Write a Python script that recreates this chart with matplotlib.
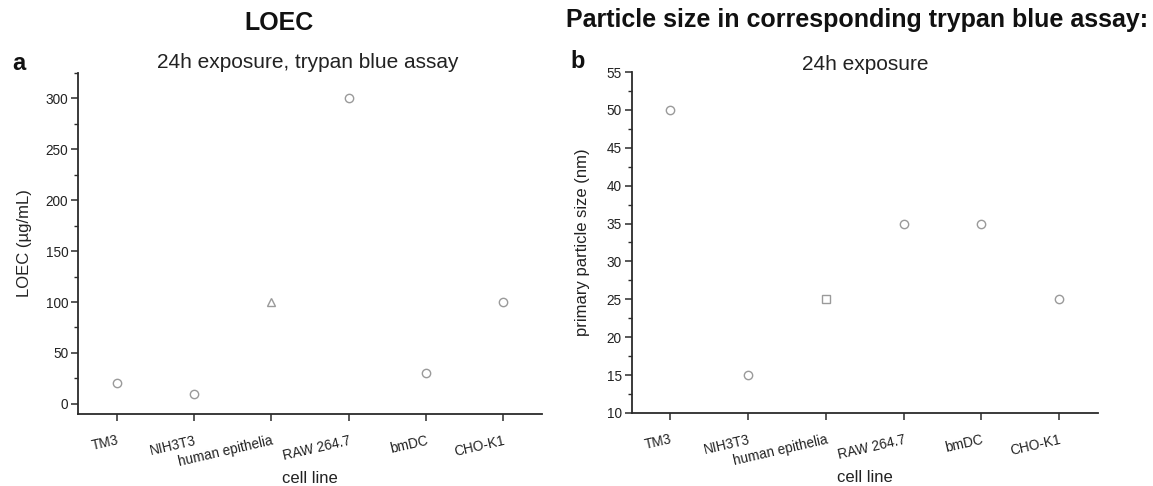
import numpy as np
import matplotlib
matplotlib.use('Agg')
import matplotlib.pyplot as plt
from matplotlib.ticker import MultipleLocator

plt.rcParams['font.family'] = ['Liberation Sans', 'DejaVu Sans']

cell_lines = ['TM3', 'NIH3T3', 'human epithelia', 'RAW 264.7', 'bmDC', 'CHO-K1']
loec = [20, 10, 100, 300, 30, 100]
loec_markers = ['o', 'o', '^', 'o', 'o', 'o']
size_nm = [50, 15, 25, 35, 35, 25]
size_markers = ['o', 'o', 's', 'o', 'o', 'o']

W, H = 1153, 486
fig = plt.figure(figsize=(W / 100, H / 100), dpi=100)
fig.patch.set_facecolor('white')

axc = '#2b2b2b'
mc = '#9a9a9a'


def px(x0, y0, x1, y1):
    # pixel box (left, top, right, bottom) -> figure fraction rect
    return [x0 / W, 1 - y1 / H, (x1 - x0) / W, (y1 - y0) / H]


def style(ax, ylim, major, minor):
    x = np.arange(1, len(cell_lines) + 1)
    ax.set_xlim(0.5, 6.5)
    ax.set_ylim(*ylim)
    for s in ['top', 'right']:
        ax.spines[s].set_visible(False)
    for s in ['left', 'bottom']:
        ax.spines[s].set_linewidth(1.3)
        ax.spines[s].set_color(axc)
    ax.yaxis.set_major_locator(MultipleLocator(major))
    ax.yaxis.set_minor_locator(MultipleLocator(minor))
    ax.tick_params(axis='y', which='major', direction='out', length=5, width=1.1,
                   color=axc, labelsize=9.8, labelcolor='#222222', pad=2)
    ax.tick_params(axis='y', which='minor', direction='out', length=3, width=1.0, color=axc)
    ax.set_xticks(x)
    ax.set_xticklabels(cell_lines, rotation=13, ha='right', va='top',
                       rotation_mode='anchor', fontsize=9.8, color='#222222')
    ax.tick_params(axis='x', which='major', direction='out', length=5, width=1.1,
                   color=axc, pad=9)
    ax.tick_params(axis='x', which='minor', bottom=False)
    ax.set_xlabel('cell line', fontsize=12, color='#222222', va='center')
    bb = ax.get_position()
    ax.xaxis.set_label_coords(0.5, -(478 - 414) / (bb.height * H))
    return x


# panel a
ax1 = fig.add_axes(px(78, 73, 542, 414))
x = style(ax1, (-10, 325), 50, 25)
for xi, yi, m in zip(x, loec, loec_markers):
    ax1.plot(xi, yi, marker=m, ms=6, mfc='none', mec=mc, mew=1.0, clip_on=False)
ax1.set_ylabel('LOEC (\u00b5g/mL)', fontsize=12, color='#222222', labelpad=10)

# panel b
ax2 = fig.add_axes(px(631.5, 72, 1098, 413))
x = style(ax2, (10, 55), 5, 2.5)
for xi, yi, m in zip(x, size_nm, size_markers):
    ax2.plot(xi, yi, marker=m, ms=6 if m == 'o' else 5.5, mfc='none', mec=mc, mew=1.0,
             clip_on=False)
ax2.set_ylabel('primary particle size (nm)', fontsize=12, color='#222222', labelpad=12)

# headings
fig.text(279 / W, 1 - 23 / H, 'LOEC', ha='center', va='center', fontsize=18,
         fontweight='bold', color='#111111')
fig.text(857 / W, 1 - 20 / H, 'Particle size in corresponding trypan blue assay:',
         ha='center', va='center', fontsize=18, fontweight='bold', color='#111111')
fig.text(12 / W, 1 - 63 / H, 'a', ha='left', va='center', fontsize=17,
         fontweight='bold', color='#111111')
fig.text(570 / W, 1 - 62 / H, 'b', ha='left', va='center', fontsize=17,
         fontweight='bold', color='#111111')
fig.text(308 / W, 1 - 63 / H, '24h exposure, trypan blue assay', ha='center',
         va='center', fontsize=15, color='#222222')
fig.text(865 / W, 1 - 65 / H, '24h exposure', ha='center', va='center', fontsize=15,
         color='#222222')

fig.savefig('out.png', dpi=100)
